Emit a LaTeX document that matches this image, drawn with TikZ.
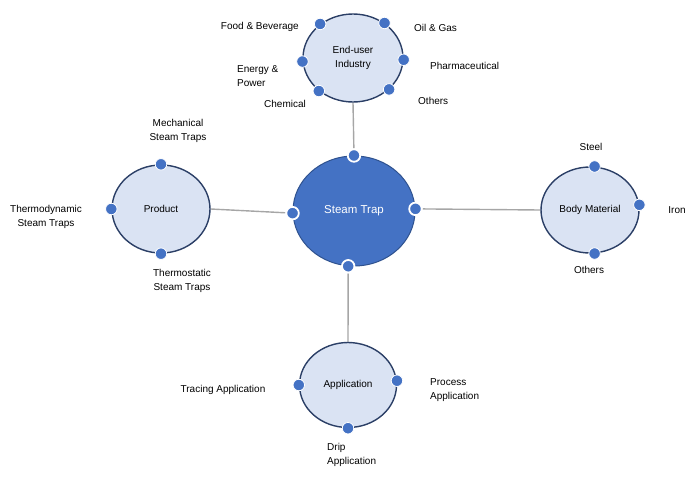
\documentclass[tikz,border=0pt]{standalone}
\usepackage{fontspec}
\setmainfont{Liberation Sans}
\usetikzlibrary{shapes.geometric,backgrounds}
\definecolor{hub}{HTML}{4472C4}
\definecolor{hubedge}{HTML}{2F528F}
\definecolor{light}{HTML}{DAE3F3}
\definecolor{navy}{HTML}{2B3F66}
\definecolor{linkgray}{HTML}{A6A6A6}
\newcommand\lblfont{\fontsize{10}{13.5}\selectfont}
\begin{document}
\begin{tikzpicture}[x=1pt,y=-1pt,
  sub/.style={ellipse, draw=navy, line width=1.4pt, fill=light, inner sep=0pt,
    minimum width=98pt, minimum height=88pt, align=center, font=\lblfont},
  dot/.style={circle, fill=hub, draw=white, line width=0.8pt, minimum size=11.5pt, inner sep=0pt},
  bigdot/.style={dot, line width=1.8pt, minimum size=12.5pt},
  lbl/.style={font=\lblfont, align=center, inner sep=0pt},
  lbll/.style={lbl, align=left},
  link/.style={draw=linkgray, line width=1.4pt}]
\useasboundingbox (0,0) rectangle (692,477);

% main nodes
\node[ellipse, fill=hub, draw=hubedge, line width=1pt, minimum width=122pt, minimum height=110pt,
  text=white, font=\fontsize{11.5}{13}\selectfont] (st) at (354,211) {Steam Trap};
\node[sub, minimum width=100pt] (eu) at (353,58) {End-user\\Industry};
\node[sub] (prod) at (161,209) {Product};
\node[sub, minimum height=86pt] (bm) at (590,210) {Body Material};
\node[sub, minimum width=97pt, minimum height=85pt] (app) at (348,385) {Application};

% dots on the hub
\node[bigdot] (st-t) at (st.90) {};
\node[bigdot] (st-l) at (st.182) {};
\node[bigdot] (st-r) at (st.2) {};
\node[bigdot] (st-b) at (st.264) {};

% dots on sub nodes
\node[dot] (eu-fb) at (eu.134) {};
\node[dot] (eu-og) at (eu.48) {};
\node[dot] (eu-ep) at (eu.184) {};
\node[dot] (eu-ph) at (eu.358) {};
\node[dot] (eu-ch) at (eu.224) {};
\node[dot] (eu-ot) at (eu.319) {};

\node[dot] (pr-m) at (prod.90) {};
\node[dot] (pr-d) at (prod.180) {};
\node[dot] (pr-s) at (prod.270) {};

\node[dot] (bm-s) at (bm.84) {};
\node[dot] (bm-i) at (bm.6) {};
\node[dot] (bm-o) at (bm.276) {};

\node[dot] (ap-t) at (app.180) {};
\node[dot] (ap-p) at (app.5) {};
\node[dot] (ap-d) at (app.270) {};

% connectors
\begin{scope}[on background layer]
\draw[link] (eu.south) -- (st-t);
\draw[link] (prod.east) -- (st-l);
\draw[link] (st-r) -- (bm.west);
\draw[link] (st-b) -- (app.north);
\end{scope}

% labels
\node[lbl, anchor=east] (l-fb) at (299,27) {Food \& Beverage};
\node[lbl, anchor=west] (l-og) at (414,28) {Oil \& Gas};
\node[lbl, anchor=west] (l-ph) at (430,66) {Pharmaceutical};
\node[lbll, anchor=west] (l-ep) at (237,76) {Energy \&\\Power};
\node[lbl] (l-ch) at (285,104) {Chemical};
\node[lbl, anchor=west] (l-ot) at (418,101) {Others};

\node[lbl] (l-me) at (178,131) {Mechanical\\Steam Traps};
\node[lbl] (l-td) at (46,217) {Thermodynamic\\Steam Traps};
\node[lbl] (l-ts) at (182,281) {Thermostatic\\Steam Traps};

\node[lbl] (l-st) at (591,147) {Steel};
\node[lbl] (l-ir) at (677,210) {Iron};
\node[lbl] (l-bo) at (589,270) {Others};

\node[lbl] (l-tr) at (223,390) {Tracing Application};
\node[lbll, anchor=west] (l-pr) at (430,390) {Process\\Application};
\node[lbll, anchor=west] (l-dr) at (327,455) {Drip\\Application};
\end{tikzpicture}
\end{document}
